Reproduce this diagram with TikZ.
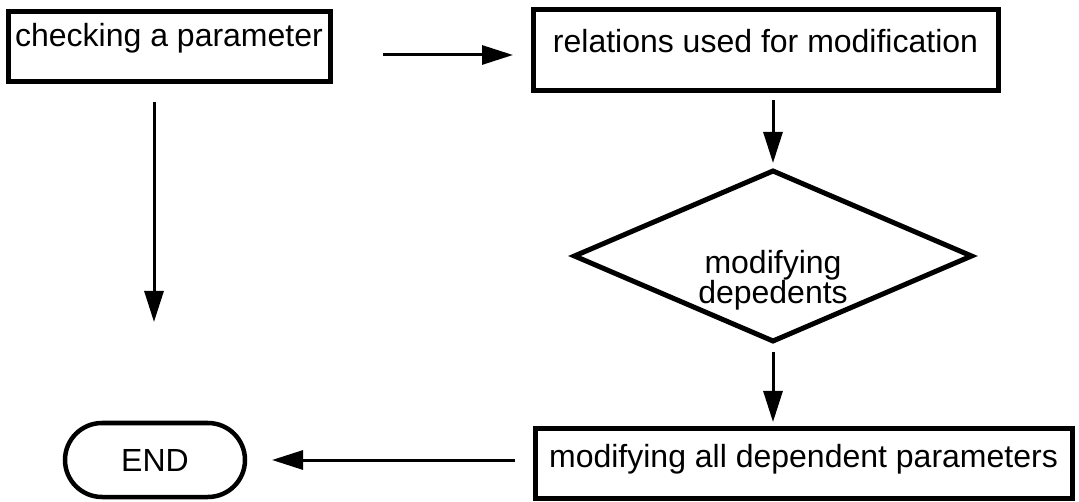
\documentclass[tikz,border=0pt]{standalone}
\usepackage{fontspec}
\setmainfont{Liberation Sans}
\usetikzlibrary{shapes.geometric,arrows.meta}
\begin{document}
\begin{tikzpicture}[x=1pt,y=-1pt,
  every node/.style={font=\fontsize{32pt}{30pt}\selectfont, outer sep=0pt},
  stepbox/.style={draw, rectangle, line width=5pt, inner ysep=0pt, inner xsep=0pt, anchor=north west},
  termbox/.style={draw, rectangle, rounded corners=37pt, line width=4.5pt, inner ysep=0pt, anchor=north west},
  decision/.style={draw, diamond, line width=5pt, inner sep=0pt, aspect=2.335},
  flow/.style={line width=3pt, -{Triangle[length=31pt,width=19pt]}}]

\useasboundingbox (0,0) rectangle (1079,502);

% process boxes
\node[stepbox, minimum width=322pt, text height=35pt, text depth=35pt] (check) at (8,12) {checking a parameter};
\node[stepbox, minimum width=465pt, text height=43pt, text depth=38pt] (rel) at (533,10) {relations used for modification};
\node[stepbox, minimum width=537pt, text height=39pt, text depth=31pt] (modall) at (535,428) {modifying all dependent parameters};

% decision
\node[decision, minimum width=397pt, minimum height=170pt,
      label={[align=center, yshift=-24pt]center:modifying\\depedents}] (dia) at (773,256) {};

% terminator
\node[termbox, minimum width=180pt, text height=48.5pt, text depth=25.5pt] (finish) at (65,423) {END};

% helper points
\coordinate (rowa) at (0,55);
\coordinate (leftend) at (154,322);

% connectors
\draw[flow, shorten <=53pt, shorten >=20pt] (check.east |- rowa) -- (rel.west |- rowa);
\draw[flow, shorten <=20pt] (check.south -| leftend) -- (leftend);
\draw[flow, shorten <=9pt, shorten >=8pt] (rel.south -| dia.north) -- (dia.north);
\draw[flow, shorten <=11pt, shorten >=6pt] (dia.south) -- (modall.north -| dia.south);
\draw[flow, shorten <=20pt, shorten >=27pt] (modall.west |- finish.east) -- (finish.east);
\end{tikzpicture}
\end{document}
